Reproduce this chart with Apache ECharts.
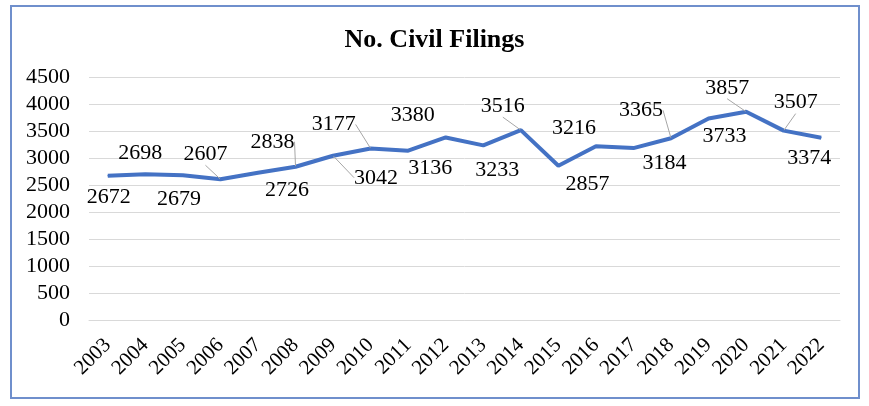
<!DOCTYPE html>
<html>
<head>
<meta charset="utf-8">
<script src="https://cdn.jsdelivr.net/npm/echarts@6/dist/echarts.min.js"></script>
<style>
html,body{margin:0;padding:0;background:#fff;}
#wrap{position:relative;width:869px;height:406px;}
#chart{position:absolute;left:0;top:0;width:869px;height:406px;}
#frame{position:absolute;left:10px;top:5px;width:846px;height:390px;border:2px solid #6f8fcc;pointer-events:none;}
</style>
</head>
<body>
<div id="wrap"><div id="chart"></div><div id="frame"></div></div>
<script>
const years = ['2003','2004','2005','2006','2007','2008','2009','2010','2011','2012','2013','2014','2015','2016','2017','2018','2019','2020','2021','2022'];
const filings = [2672,2698,2679,2607,2726,2838,3042,3177,3136,3380,3233,3516,2857,3216,3184,3365,3733,3857,3507,3374];
const yTicks = [0,500,1000,1500,2000,2500,3000,3500,4000,4500];

// label offsets (dx, dy) from each point, and which labels use a leader line
const labelOffsets = [[1,22],[-5,-21],[-4,24],[-15,-25],[29,17],[-23,-25],[43,22],[-37,-24],[22,18],[-33,-22],[14,25],[-18,-24],[29,18],[-22,-18],[31,15],[-30,-28],[16,18],[-19,-24],[12,-28],[-12,20]];
const leader = [false,false,false,true,false,true,true,true,false,false,false,true,false,false,false,true,false,true,true,false];

const serif = "'Liberation Serif','Times New Roman',serif";
const chart = echarts.init(document.getElementById('chart'));
chart.setOption({
  animation:false,
  title:{text:'No. Civil Filings',left:'center',top:22,
    textStyle:{fontFamily:serif,fontWeight:'bold',fontSize:26,color:'#000'}},
  grid:{left:89,right:29,top:77,bottom:86},
  xAxis:{type:'category',data:years,boundaryGap:true,
    axisLine:{show:true,lineStyle:{color:'#d9d9d9'}},
    axisTick:{show:false},
    axisLabel:{rotate:45,margin:22,fontFamily:serif,fontSize:21,color:'#000',interval:0}},
  yAxis:{type:'value',min:yTicks[0],max:yTicks[yTicks.length-1],interval:500,
    axisLine:{show:false},axisTick:{show:false},
    splitLine:{lineStyle:{color:'#d9d9d9',width:1}},
    axisLabel:{margin:19,fontFamily:serif,fontSize:22,color:'#000',formatter:function(v){return String(v);}}},
  series:[{
    type:'line',
    data:filings.map((v,i)=>({value:v,labelLine:{show:leader[i]}})),
    symbol:'circle',symbolSize:1,showSymbol:true,
    lineStyle:{color:'#4472c4',width:4},
    itemStyle:{color:'#4472c4'},
    label:{show:true,position:'inside',fontFamily:serif,fontSize:22,color:'#000'},
    labelLine:{lineStyle:{color:'#a6a6a6',width:1}},
    labelLayout:function(p){const o=labelOffsets[p.dataIndex];return {dx:o[0],dy:o[1]};}
  }]
});
</script>
</body>
</html>
